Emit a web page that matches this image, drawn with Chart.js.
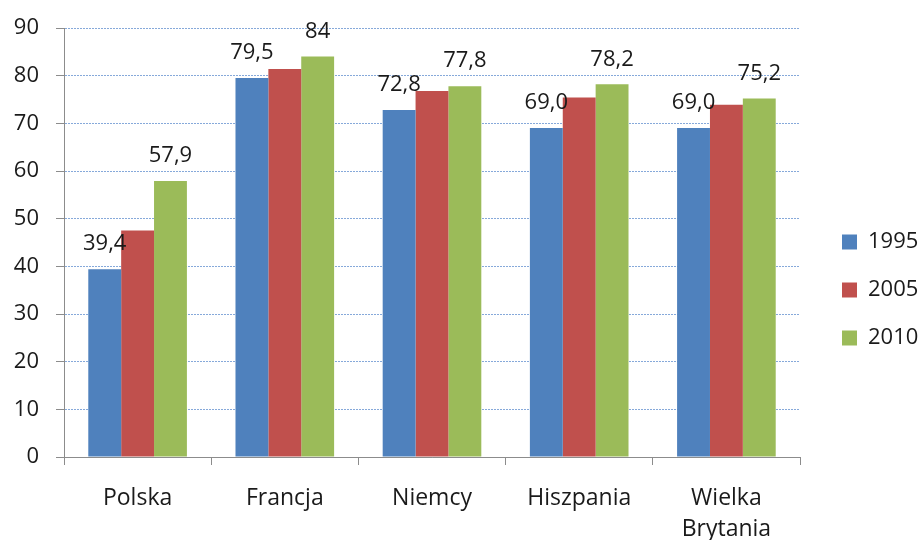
<!DOCTYPE html>
<html>
<head>
<meta charset="utf-8">
<script src="https://cdn.jsdelivr.net/npm/chart.js@4.4.1/dist/chart.umd.min.js"></script>
<style>
  html, body { margin: 0; padding: 0; background: #fff; }
  #wrap { width: 922px; height: 540px; }
</style>
</head>
<body>
<div id="wrap"><canvas id="chart"></canvas></div>
<script>
// categories and series
const countries = ['Polska', 'Francja', 'Niemcy', 'Hiszpania', ['Wielka', 'Brytania']];
const years = ['1995', '2005', '2010'];
const values1995 = [39.4, 79.5, 72.8, 69.0, 69.0];
const values2005 = [47.5, 81.4, 76.8, 75.4, 73.9];
const values2010 = [57.9, 84, 77.8, 78.2, 75.2];
// labels shown above bars (only 1995 and 2010 have them)
const labels1995 = ['39,4', '79,5', '72,8', '69,0', '69,0'];
const labels2010 = ['57,9', '84', '77,8', '78,2', '75,2'];

const FONT = '"Open Sans", sans-serif';
const TEXT = '#1a1a1a';

const valueLabels = {
  id: 'valueLabels',
  afterDatasetsDraw(chart) {
    const ctx = chart.ctx;
    ctx.save();
    ctx.font = '22px ' + FONT;
    ctx.fillStyle = TEXT;
    ctx.textAlign = 'center';
    ctx.textBaseline = 'middle';
    [[0, labels1995], [2, labels2010]].forEach(([i, texts]) => {
      chart.getDatasetMeta(i).data.forEach((bar, j) => {
        ctx.fillText(texts[j], bar.x, bar.y - 25);
      });
    });
    ctx.restore();
  }
};

// fixed legend column on the right, nudged into place
const legendGap = {
  id: 'legendGap',
  beforeInit(chart) {
    const fit = chart.legend.fit;
    chart.legend.fit = function () {
      fit.call(this);
      this.width = 122;
    };
  },
  afterLayout(chart) {
    const lg = chart.legend;
    lg.left += 16;
    lg.right += 16;
    lg.top += 12;
    lg.bottom += 12;
  }
};

new Chart(document.getElementById('chart'), {
  type: 'bar',
  data: {
    labels: countries,
    datasets: [
      { label: years[0], data: values1995, backgroundColor: '#4f81bd' },
      { label: years[1], data: values2005, backgroundColor: '#c0504d' },
      { label: years[2], data: values2010, backgroundColor: '#9bbb59' }
    ]
  },
  options: {
    responsive: true,
    maintainAspectRatio: false,
    animation: false,
    layout: { padding: { top: 16, left: 0, right: 0, bottom: 0 } },
    datasets: {
      bar: { barPercentage: 1, categoryPercentage: 0.67 }
    },
    plugins: {
      tooltip: { enabled: false },
      legend: {
        position: 'right',
        labels: {
          boxWidth: 15,
          boxHeight: 15,
          padding: 26,
          color: TEXT,
          font: { family: FONT, size: 22 }
        }
      }
    },
    scales: {
      x: {
        afterFit(scale) { scale.height = 83; },
        grid: {
          drawOnChartArea: false,
          drawTicks: true,
          tickLength: 8,
          color: '#8c8c8c'
        },
        border: { color: '#8c8c8c', width: 1 },
        ticks: {
          color: TEXT,
          padding: 18,
          maxRotation: 0,
          font: { family: FONT, size: 23, lineHeight: 1.35 }
        }
      },
      y: {
        min: 0,
        max: 90,
        afterFit(scale) { scale.width = 64; },
        grid: {
          color: '#86a9da',
          tickColor: '#8c8c8c',
          tickLength: 8,
          tickBorderDash: []
        },
        border: { color: '#8c8c8c', width: 1, dash: [2, 1] },
        ticks: {
          stepSize: 10,
          color: TEXT,
          padding: 17,
          font: { family: FONT, size: 22, lineHeight: 1 }
        }
      }
    }
  },
  plugins: [valueLabels, legendGap]
});
</script>
</body>
</html>
